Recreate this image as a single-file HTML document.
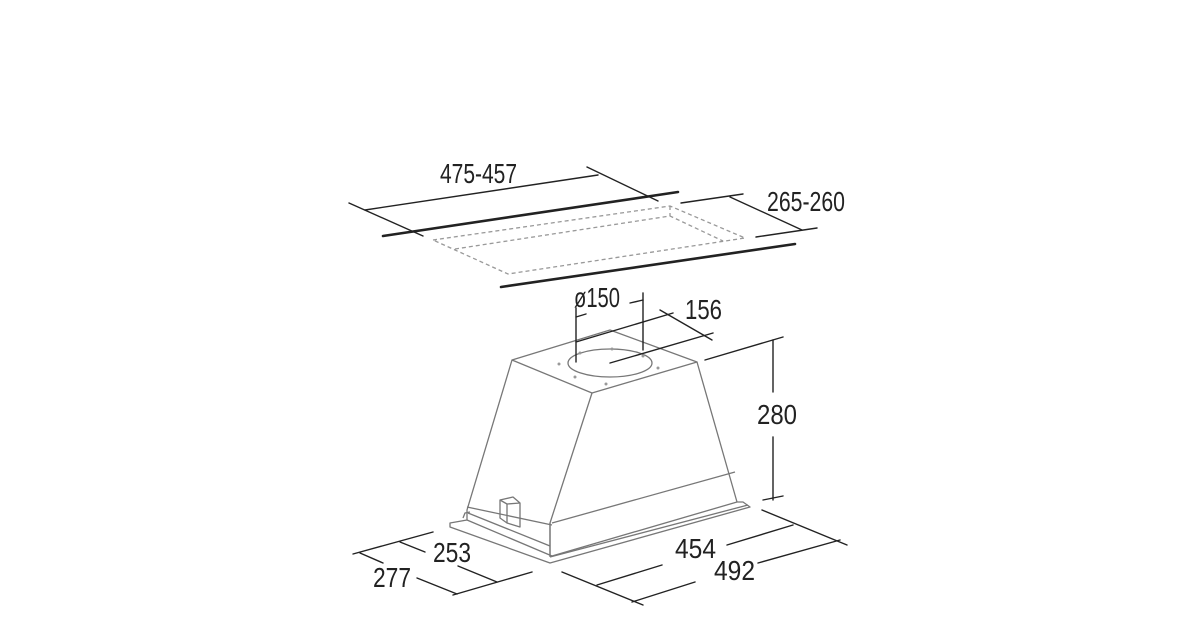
<!DOCTYPE html>
<html><head><meta charset="utf-8"><style>
html,body{margin:0;padding:0;background:#fff;}
svg{display:block;}
text{font-family:"Liberation Sans Narrow","Liberation Sans",sans-serif;font-size:28px;fill:#222;}
</style></head><body>
<svg width="1200" height="630" viewBox="0 0 1200 630" xmlns="http://www.w3.org/2000/svg">
<g stroke="#222" stroke-width="1.4" fill="none" stroke-linecap="round">
 <line x1="349" y1="203" x2="423" y2="236"/>
 <line x1="365" y1="210" x2="598" y2="175"/>
 <line x1="587" y1="167" x2="658" y2="201"/>
 <line x1="383" y1="236" x2="678" y2="192" stroke-width="2.6"/>
 <line x1="681" y1="203" x2="743" y2="194"/>
 <line x1="756" y1="237" x2="817" y2="228"/>
 <line x1="730" y1="197" x2="802" y2="230"/>
 <line x1="501" y1="287" x2="795" y2="244" stroke-width="2.6"/>
</g>
<g stroke="#999" stroke-width="1.3" fill="none" stroke-dasharray="4,3">
 <polygon points="433,240 670,206 745,238 508,274"/>
 <polyline points="455,249 670,216 723,241"/>
 <line x1="670" y1="206" x2="670" y2="216"/>
</g>
<g stroke="#777" stroke-width="1.3" fill="none" stroke-linejoin="round">
 <polygon points="450,527 550,563 750,507 743,502 737,502 552,556 467,520 450,523" />
 <polygon points="512,360 610,330 697,362 592,393"/>
 <polyline points="512,360 467,510 467,520"/>
 <polyline points="592,393 550,523 550,557"/>
 <polyline points="697,362 737,502"/>
 <line x1="552" y1="523" x2="735" y2="472"/>
 <line x1="550" y1="557" x2="748" y2="505"/>
 <line x1="467" y1="507" x2="552" y2="525"/>
 <line x1="468" y1="513" x2="550" y2="546"/>
 <polyline points="463,518 465,513 470,512"/>
 <line x1="550" y1="523" x2="550" y2="556"/>
 <polygon points="500,500 513,497 520,503 520,527 507,523 500,518"/>
 <line x1="507" y1="504" x2="507" y2="523"/>
 <line x1="500" y1="500" x2="507" y2="504"/><line x1="507" y1="504" x2="520" y2="503"/>
 <ellipse cx="610" cy="363" rx="42" ry="14"/>
</g>
<g fill="#999">
 <circle cx="559" cy="364" r="1.5"/><circle cx="580" cy="353" r="1.5"/><circle cx="612" cy="349" r="1.5"/>
 <circle cx="643" cy="356" r="1.5"/><circle cx="658" cy="368" r="1.5"/><circle cx="606" cy="384" r="1.5"/><circle cx="575" cy="377" r="1.5"/>
</g>
<g stroke="#222" stroke-width="1.4" fill="none" stroke-linecap="round">
 <line x1="576" y1="308" x2="576" y2="362"/>
 <line x1="576" y1="317" x2="586" y2="314"/>
 <line x1="643" y1="293" x2="643" y2="350"/>
 <line x1="630" y1="303" x2="643" y2="300"/>
 <line x1="576" y1="342" x2="673" y2="313"/>
 <line x1="610" y1="363" x2="713" y2="333"/>
 <line x1="660" y1="310" x2="712" y2="340"/>
 <line x1="773" y1="340" x2="773" y2="392"/>
 <line x1="773" y1="437" x2="773" y2="500"/>
 <line x1="705" y1="360" x2="783" y2="337"/>
 <line x1="763" y1="500" x2="783" y2="496"/>
 <line x1="762" y1="510" x2="847" y2="545"/>
 <line x1="727" y1="545" x2="793" y2="525"/>
 <line x1="758" y1="563" x2="840" y2="540"/>
 <line x1="562" y1="572" x2="643" y2="605"/>
 <line x1="597" y1="585" x2="662" y2="565"/>
 <line x1="632" y1="602" x2="695" y2="582"/>
 <line x1="353" y1="554" x2="433" y2="532"/>
 <line x1="360" y1="553" x2="383" y2="563"/>
 <line x1="400" y1="542" x2="425" y2="552"/>
 <line x1="458" y1="566" x2="497" y2="582"/>
 <line x1="417" y1="578" x2="457" y2="594"/>
 <line x1="453" y1="595" x2="532" y2="572"/>
</g>
<g>
 <text x="440" y="183" textLength="77" lengthAdjust="spacingAndGlyphs">475-457</text>
 <text x="767" y="211" textLength="78" lengthAdjust="spacingAndGlyphs">265-260</text>
 <text x="574" y="307" textLength="46" lengthAdjust="spacingAndGlyphs">ø150</text>
 <text x="685" y="319" textLength="37" lengthAdjust="spacingAndGlyphs">156</text>
 <text x="757" y="424" textLength="40" lengthAdjust="spacingAndGlyphs">280</text>
 <text x="675" y="558" textLength="41" lengthAdjust="spacingAndGlyphs">454</text>
 <text x="714" y="580" textLength="41" lengthAdjust="spacingAndGlyphs">492</text>
 <text x="433" y="562" textLength="38" lengthAdjust="spacingAndGlyphs">253</text>
 <text x="373" y="587" textLength="38" lengthAdjust="spacingAndGlyphs">277</text>
</g>
</svg>
</body></html>
